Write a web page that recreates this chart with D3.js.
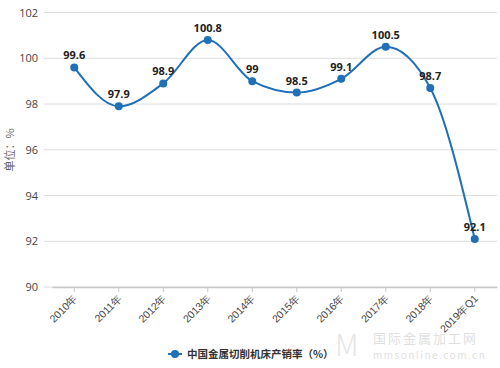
<!DOCTYPE html>
<html><head><meta charset="utf-8">
<script src="https://cdn.jsdelivr.net/npm/d3@7"></script>
<style>body{margin:0;background:#fff;}svg{display:block;font-family:"Noto Sans CJK SC","Open Sans",sans-serif;}</style>
</head><body><svg id="c" width="500" height="368"></svg>
<script>
const categories = ["2010年","2011年","2012年","2013年","2014年","2015年","2016年","2017年","2018年","2019年Q1"];
const values = [99.6,97.9,98.9,100.8,99,98.5,99.1,100.5,98.7,92.1];
const yTicks = [90,92,94,96,98,100,102];
const seriesName = "中国金属切削机床产销率（%）";
const yTitle = "单位：%";

const svg = d3.select("#c");
const x = d3.scaleBand().domain(categories).range([52,497]);
const y = d3.scaleLinear().domain([90,102]).range([287,12.5]);
const cx = d => x(d) + x.bandwidth()/2;
const color = "#1f70b8";

// grid
svg.append("g").selectAll("line").data(yTicks).join("line")
  .attr("x1",44).attr("x2",497).attr("y1",d=>y(d)).attr("y2",d=>y(d))
  .attr("stroke","#dcdcdc").attr("stroke-width",1);

// y labels
const ya = svg.append("g").attr("transform","translate(44,0)")
  .call(d3.axisLeft(y).tickValues(yTicks).tickSize(0).tickPadding(6).tickFormat(d3.format("d")));
ya.select(".domain").remove();
ya.selectAll("text").attr("font-size",11).attr("fill","#444").attr("font-family","'Open Sans',sans-serif");

// x axis
const xa = svg.append("g").attr("transform","translate(0,287)")
  .call(d3.axisBottom(x).tickSize(5).tickSizeOuter(0));
xa.select(".domain").attr("stroke","#c8c8c8").attr("stroke-width",1.5);
xa.selectAll(".tick line").attr("stroke","#c8c8c8");
xa.selectAll("text").attr("font-size",10.5).attr("fill","#444")
  .attr("text-anchor","end").attr("dy",0).attr("y",0)
  .attr("transform","translate(4,12) rotate(-45)");

// y title
svg.append("text").attr("transform","translate(14,150) rotate(-90)")
  .attr("text-anchor","middle").attr("font-size",11).attr("fill","#666").text(yTitle);

// line
const pts = categories.map((c,i)=>[cx(c), y(values[i])]);
svg.append("path").attr("d", d3.line().curve(d3.curveMonotoneX)(pts))
  .attr("fill","none").attr("stroke",color).attr("stroke-width",2);
svg.append("g").selectAll("circle").data(pts).join("circle")
  .attr("cx",d=>d[0]).attr("cy",d=>d[1]).attr("r",4).attr("fill",color);
svg.append("g").selectAll("text").data(categories).join("text")
  .attr("x",c=>cx(c)).attr("y",(c,i)=>y(values[i])-8)
  .attr("text-anchor","middle").attr("font-size",11).attr("font-weight","bold")
  .attr("fill","#222").attr("font-family","'Open Sans',sans-serif")
  .text((c,i)=>values[i]);

// legend
const lg = svg.append("g").attr("transform","translate(168,354)");
lg.append("line").attr("x1",0).attr("x2",14).attr("y1",0).attr("y2",0).attr("stroke",color).attr("stroke-width",2);
lg.append("circle").attr("cx",7).attr("cy",0).attr("r",4).attr("fill",color);
lg.append("text").attr("x",19).attr("y",4).attr("font-size",10.5).attr("font-weight","bold").attr("fill","#333").text(seriesName);

// watermark
const wm = svg.append("g").attr("opacity",0.3);
wm.append("text").attr("x",335).attr("y",356).attr("font-size",30).attr("font-weight","300").attr("fill","#aaa").text("M");
wm.append("text").attr("x",373).attr("y",343).attr("font-size",13).attr("fill","#999").attr("letter-spacing",2).text("国际金属加工网");
wm.append("text").attr("x",373).attr("y",359).attr("font-size",10).attr("fill","#999").attr("letter-spacing",1.5).text("mmsonline.com.cn");
</script></body></html>
